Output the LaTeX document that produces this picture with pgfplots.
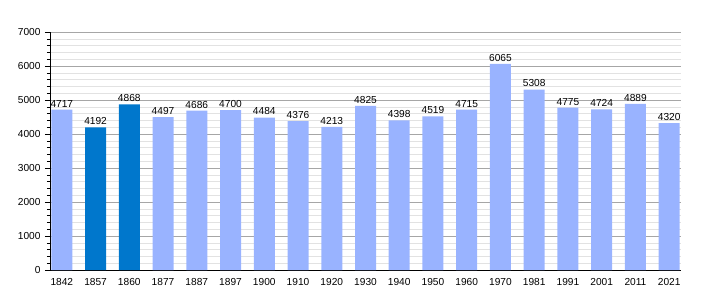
\documentclass[border=0pt]{standalone}
\usepackage{pgfplots}
\pgfplotsset{compat=1.18}
\usepackage{fontspec}
\setmainfont{Liberation Sans}
\definecolor{barlight}{HTML}{99B3FF}
\definecolor{bardark}{HTML}{0077CC}
\definecolor{majgrid}{HTML}{A6A6A6}
\definecolor{mingrid}{HTML}{E2E2E2}
\begin{document}
\begin{tikzpicture}
\begin{axis}[
  scale only axis,
  width=631bp, height=238bp,
  xmin=-0.35, xmax=18.35,
  ymin=0, ymax=7000,
  ytick={0,1000,...,7000},
  minor y tick num=4,
  xtick={0,...,18},
  xticklabels={1842,1857,1860,1877,1887,1897,1900,1910,1920,1930,1940,1950,1960,1970,1981,1991,2001,2011,2021},
  x tick style={draw=none},
  axis x line=bottom, axis y line=left,
  axis line style={black, line width=0.9pt, -},
  ymajorgrids, yminorgrids,
  major grid style={majgrid, line width=0.6pt},
  minor grid style={mingrid, line width=0.6pt},
  tick align=outside,
  major tick length=5bp, minor tick length=3bp,
  tick style={black, line width=0.6pt},
  /pgf/number format/assume math mode=true,
  /pgf/number format/1000 sep={},
  ticklabel style={font=\fontsize{10.2}{12}\selectfont},
  xticklabel style={yshift=0bp},
  yticklabel style={xshift=-1bp},
  ybar, bar width=21bp, bar shift=0pt,
  nodes near coords,
  nodes near coords style={font=\fontsize{10.2}{12}\selectfont, /pgf/number format/1000 sep={}, /pgf/number format/assume math mode=true, yshift=-1bp},
  clip=false,
]
\addplot[fill=barlight, draw=none] coordinates {(0,4717) (3,4497) (4,4686) (5,4700) (6,4484) (7,4376) (8,4213) (9,4825) (10,4398) (11,4519) (12,4715) (13,6065) (14,5308) (15,4775) (16,4724) (17,4889) (18,4320)};
\addplot[fill=bardark, draw=none] coordinates {(1,4192) (2,4868)};
\end{axis}
\path (current axis.south west) ++(-50bp,-30bp) rectangle ++(710bp,300bp);
\end{tikzpicture}
\end{document}
